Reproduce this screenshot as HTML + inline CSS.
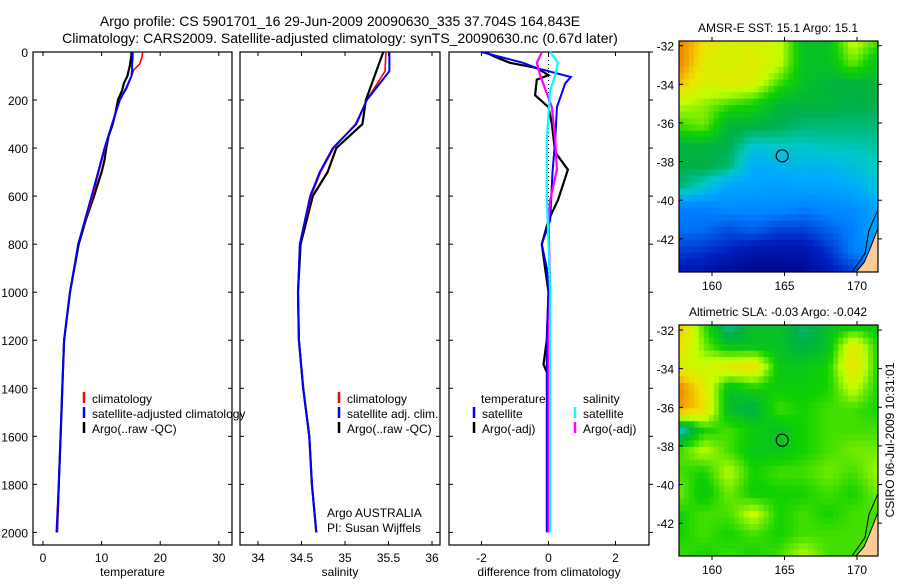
<!DOCTYPE html>
<html><head><meta charset="utf-8"><style>
body{margin:0;background:#fff;}
svg text{font-family:"Liberation Sans",sans-serif;fill:#000;}
</style></head><body>
<svg id="c" width="900" height="580" viewBox="0 0 900 580" xmlns="http://www.w3.org/2000/svg">
<text x="340" y="26" font-size="14" text-anchor="middle">Argo profile: CS 5901701_16 29-Jun-2009 20090630_335 37.704S 164.843E</text>
<text x="340" y="43" font-size="14" text-anchor="middle">Climatology: CARS2009. Satellite-adjusted climatology: synTS_20090630.nc (0.67d later)</text>
<g id="g"></g>
</svg>
<script>
// ---------- data ----------
const climDepth=[0,20,50,75,100,150,200,300,400,500,600,800,1000,1200,1400,1600,1800,2000];
const tempClim=[17,16.9,16.5,15.5,15.1,14.3,13.1,11.8,10.6,9.5,8.5,6.0,4.6,3.6,3.3,3.0,2.7,2.4];
const tempSat=[15.3,15.3,15.2,15.2,15.1,14.2,13.1,11.8,10.5,9.4,8.3,6.0,4.6,3.6,3.3,3.0,2.7,2.3];
const argoDepth=[0,10,30,60,100,130,160,200,250,300,350,400,450,500,600,700,800,1000,1200,1400,1600,1800,2000];
const tempArgo=[15.1,15.1,15.0,14.8,14.4,13.8,13.5,12.8,12.4,11.9,11.2,10.8,10.5,10.0,8.7,7.3,6.1,4.6,3.6,3.3,3.0,2.7,2.4];
const salDepth=[0,80,200,300,400,500,600,800,1000,1200,1400,1600,1800,2000];
const salClim=[35.47,35.46,35.25,35.12,34.87,34.72,34.61,34.48,34.46,34.47,34.52,34.59,34.62,34.67];
const salSat=[35.51,35.51,35.25,35.13,34.86,34.71,34.6,34.48,34.46,34.47,34.52,34.59,34.62,34.67];
const salArgo=[35.44,35.36,35.24,35.2,34.9,34.8,34.63,34.49,34.46,34.47,34.52,34.59,34.62,34.67];
const dTsDepth=[0,45,67,104,130,230,367,500,700,800,900,1000,1200,1400,1600,2000];
const dTsat=[-2.0,-0.76,-0.35,0.67,0.5,0.25,0.2,0.12,0.05,-0.2,-0.05,0,-0.05,-0.05,-0.05,-0.05];
const dTaDepth=[0,20,45,67,96,115,180,230,300,417,490,617,700,800,900,1000,1200,1300,1350,1400,2000];
const dTargo=[-1.9,-1.6,-1.15,-0.35,0,-0.35,-0.4,0,0.1,0.2,0.58,0.28,0,-0.2,-0.1,0,-0.05,-0.15,0,0,0];
const dSaDepth=[0,45,96,230,367,490,617,700,1000,1200,2000];
const dSargo=[-0.2,-0.35,-0.25,0.1,0.2,0.25,0.05,0,0.05,0,0];
const dSsDepth=[0,45,96,160,367,600,1000,2000];
const dSsat=[0.05,0.28,0.2,0.05,-0.05,-0.05,0.05,0.05];
const depthTicks=[0,200,400,600,800,1000,1200,1400,1600,1800,2000];
const tempTicks=[0,10,20,30];
const salTicks=[34,34.5,35,35.5,36];
const diffTicks=[-2,0,2];
const latTicks=[-32,-34,-36,-38,-40,-42];
const lonTicks=[160,165,170];
const sstGrid=[
[0.8,0.72,0.68,0.68,0.66,0.55,0.55,0.66,0.6],
[0.8,0.7,0.68,0.7,0.66,0.55,0.55,0.62,0.55],
[0.75,0.68,0.7,0.68,0.6,0.55,0.53,0.53,0.53],
[0.65,0.63,0.6,0.58,0.53,0.53,0.53,0.52,0.52],
[0.6,0.62,0.53,0.53,0.52,0.5,0.5,0.5,0.5],
[0.53,0.53,0.52,0.45,0.46,0.46,0.47,0.47,0.48],
[0.52,0.52,0.5,0.4,0.42,0.42,0.42,0.44,0.46],
[0.5,0.45,0.38,0.38,0.37,0.38,0.38,0.4,0.45],
[0.3,0.3,0.33,0.32,0.33,0.3,0.32,0.33,0.38],
[0.28,0.27,0.22,0.25,0.2,0.2,0.25,0.3,0.4],
[0.2,0.18,0.15,0.1,0.1,0.1,0.18,0.3,0.35],
[0.12,0.1,0.05,0.03,0.03,0.05,0.12,0.2,0.3]];
const slaGrid=[
[0.75,0.6,0.48,0.55,0.55,0.5,0.55,0.56,0.56],
[0.72,0.62,0.55,0.55,0.55,0.52,0.55,0.7,0.58],
[0.68,0.66,0.7,0.72,0.56,0.56,0.58,0.72,0.58],
[0.8,0.7,0.55,0.58,0.57,0.57,0.58,0.66,0.58],
[0.78,0.72,0.54,0.52,0.6,0.58,0.6,0.6,0.58],
[0.45,0.58,0.6,0.57,0.55,0.58,0.6,0.6,0.6],
[0.6,0.65,0.6,0.56,0.56,0.58,0.6,0.62,0.62],
[0.6,0.58,0.65,0.58,0.6,0.6,0.62,0.6,0.64],
[0.62,0.56,0.62,0.57,0.58,0.58,0.6,0.58,0.62],
[0.58,0.6,0.6,0.66,0.58,0.6,0.58,0.6,0.6],
[0.58,0.6,0.58,0.6,0.58,0.6,0.6,0.6,0.6],
[0.6,0.58,0.6,0.58,0.6,0.65,0.6,0.6,0.6]];

// ---------- helpers ----------
const NS="http://www.w3.org/2000/svg";
const G=document.getElementById('g');
function mk(tag,attrs,parent){const e=document.createElementNS(NS,tag);for(const k in attrs)e.setAttribute(k,attrs[k]);(parent||G).appendChild(e);return e;}
function txt(x,y,s,size,anchor,name){const t=mk('text',{x:x,y:y,'font-size':size,'text-anchor':anchor||'start'});t.textContent=s;


return t;}
const Y=d=>52+d*0.2402;
const PT={x0:33,x1:232,sx:v=>43+v*5.86};
const PS={x0:240,x1:440,sx:v=>258+(v-34)*87};
const PD={x0:449,x1:649,sx:v=>548.5+v*33.5};
function panel(P,name,ticks,xlabel,labelY){
  const r=mk('rect',{x:P.x0,y:52,width:P.x1-P.x0,height:493,fill:'none',stroke:'#000','stroke-width':1.2});
  
  
  depthTicks.forEach(d=>{const y=Y(d);
    mk('line',{x1:P.x0,y1:y,x2:P.x0+4,y2:y,stroke:'#000'});
    if(P===PD) mk('line',{x1:P.x1,y1:y,x2:P.x1+4,y2:y,stroke:'#000'});
    else mk('line',{x1:P.x1,y1:y,x2:P.x1-4,y2:y,stroke:'#000'});
    if(labelY) txt(28,y+5,String(d),12,'end','depth-tick-label');
  });
  ticks.forEach(v=>{const x=P.sx(v);
    mk('line',{x1:x,y1:545,x2:x,y2:541,stroke:'#000'});
    mk('line',{x1:x,y1:52,x2:x,y2:56,stroke:'#000'});
    txt(x,562,String(v),12,'middle',name+'-x-tick-label');
  });
  txt((P.x0+P.x1)/2,576,xlabel,12,'middle',name+'-x-axis-title');
}
function series(P,ds,vs,color,w,name,dash){
  const pts=ds.map((d,i)=>P.sx(vs[i]).toFixed(1)+','+Y(d).toFixed(1)).join(' ');
  const l=mk('polyline',{points:pts,fill:'none',stroke:color,'stroke-width':w});
  if(dash)l.setAttribute('stroke-dasharray',dash);
  
  
}
function legend(x,y,color,label,name){
  mk('line',{x1:x,y1:y-11,x2:x,y2:y,stroke:color,'stroke-width':2.5});
  txt(x+8,y,label,12,'start',name);
}

// temperature panel
panel(PT,'temperature-panel',tempTicks,'temperature',true);
series(PT,argoDepth,tempArgo,'#000',2.2,'temp-argo-line');
series(PT,climDepth,tempClim,'#f00',1.6,'temp-climatology-line');
series(PT,climDepth,tempSat,'#00f',2,'temp-satellite-line');
legend(84,403,'#f00','climatology','legend-climatology');
legend(84,418,'#00f','satellite-adjusted climatology','legend-satellite');
legend(84,433,'#000','Argo(..raw -QC)','legend-argo');

// salinity panel
panel(PS,'salinity-panel',salTicks,'salinity',false);
series(PS,salDepth,salArgo,'#000',2.2,'sal-argo-line');
series(PS,salDepth,salClim,'#f00',1.6,'sal-climatology-line');
series(PS,salDepth,salSat,'#00f',2,'sal-satellite-line');
legend(339,403,'#f00','climatology','legend-sal-climatology');
legend(339,418,'#00f','satellite adj. clim.','legend-sal-satellite');
legend(339,433,'#000','Argo(..raw -QC)','legend-sal-argo');
txt(327,517,'Argo AUSTRALIA',12,'start','credit-argo-australia');
txt(327,532,'PI: Susan Wijffels',12,'start','credit-pi');

// difference panel
panel(PD,'difference-panel',diffTicks,'difference from climatology',false);
mk('line',{x1:PD.sx(0),y1:52,x2:PD.sx(0),y2:Y(2000),stroke:'#000','stroke-dasharray':'1,3'});
series(PD,dTaDepth,dTargo,'#000',2.2,'diff-temp-argo-line');
series(PD,dTsDepth,dTsat,'#00f',2,'diff-temp-satellite-line');
series(PD,dSaDepth,dSargo,'#f0f',2.2,'diff-sal-argo-line');
series(PD,dSsDepth,dSsat,'#0ff',2.2,'diff-sal-satellite-line');
txt(481,403,'temperature',12,'start','legend-temperature-header');
txt(583,403,'salinity',12,'start','legend-salinity-header');
legend(474,418,'#00f','satellite','legend-diff-temp-satellite');
legend(474,433,'#000','Argo(-adj)','legend-diff-temp-argo');
legend(575,418,'#0ff','satellite','legend-diff-sal-satellite');
legend(575,433,'#f0f','Argo(-adj)','legend-diff-sal-argo');

// maps
const stops=[[0,[0,0,128]],[0.15,[0,32,192]],[0.3,[0,128,255]],[0.4,[0,170,255]],[0.46,[0,200,200]],[0.52,[0,176,72]],[0.58,[16,210,0]],[0.65,[192,255,0]],[0.72,[240,224,0]],[0.8,[240,128,0]]];
function cmap(v){if(v<=0)return 'rgb(0,0,128)';for(let i=1;i<stops.length;i++){if(v<=stops[i][0]){const a=stops[i-1],b=stops[i],t=(v-a[0])/(b[0]-a[0]);return 'rgb('+a[1].map((c,j)=>Math.round(c+(b[1][j]-c)*t)).join(',')+')';}}return 'rgb(240,128,0)';}
function sample(grid,u,v){const R=grid.length-1,C=grid[0].length-1;const fy=v*R,fx=u*C;const i=Math.min(Math.floor(fy),R-1),j=Math.min(Math.floor(fx),C-1);const ty=fy-i,tx=fx-j;
return grid[i][j]*(1-tx)*(1-ty)+grid[i][j+1]*tx*(1-ty)+grid[i+1][j]*(1-tx)*ty+grid[i+1][j+1]*tx*ty;}
function map(top,bot,grid,title,name,lat0y){
  const x0=679,x1=878,w=x1-x0,h=bot-top;
  const g=mk('g',{});
  
  
  const nx=40,ny=36;
  for(let r=0;r<ny;r++)for(let c=0;c<nx;c++){
    const v=sample(grid,(c+0.5)/nx,(r+0.5)/ny);
    mk('rect',{x:(x0+c*w/nx).toFixed(2),y:(top+r*h/ny).toFixed(2),width:(w/nx+0.4).toFixed(2),height:(h/ny+0.4).toFixed(2),fill:cmap(v)},g);
  }
  // coast
  mk('polygon',{points:`${x1},${bot-h*0.19} ${x1-8},${bot-h*0.1} ${x1-14},${bot-h*0.04} ${x1-22},${bot} ${x1},${bot}`,fill:'#ffcc99'},g);
  mk('polyline',{points:`${x1},${bot-h*0.19} ${x1-8},${bot-h*0.1} ${x1-14},${bot-h*0.04} ${x1-22},${bot}`,fill:'none',stroke:'#000','stroke-width':1},g);
  mk('polyline',{points:`${x1},${bot-h*0.27} ${x1-9},${bot-h*0.18} ${x1-13},${bot-h*0.08} ${x1-26},${bot}`,fill:'none',stroke:'#000','stroke-width':1},g);
  mk('rect',{x:x0,y:top,width:w,height:h,fill:'none',stroke:'#000','stroke-width':1.2},g);
  const sy=19.4*(h/232);
  latTicks.forEach((la,i)=>{const y=lat0y+i*2*sy;
    mk('line',{x1:x0,y1:y,x2:x0+4,y2:y,stroke:'#000'},g);mk('line',{x1:x1,y1:y,x2:x1+4,y2:y,stroke:'#000'},g);
    txt(674,y+5,String(la),12,'end',name+'-lat-label');});
  lonTicks.forEach(lo=>{const x=712+(lo-160)*14.5;
    mk('line',{x1:x,y1:bot,x2:x,y2:bot+4,stroke:'#000'},g);mk('line',{x1:x,y1:top,x2:x,y2:top-4,stroke:'#000'},g);
    txt(x,bot+18,String(lo),12,'middle',name+'-lon-label');});
  const ci=mk('circle',{cx:712+(164.843-160)*14.5,cy:lat0y+(37.704-32)*sy,r:6,fill:'none',stroke:'#000','stroke-width':1.2},g);
  
  
  txt(778,top-9,title,12,'middle',name+'-title');
}
map(41,272,sstGrid,'AMSR-E SST: 15.1 Argo: 15.1','sst-map',45.7);
map(325,556,slaGrid,'Altimetric SLA: -0.03 Argo: -0.042','sla-map',330);
const rt=txt(0,0,'CSIRO 06-Jul-2009 10:31:01',12,'middle','timestamp-label');
rt.setAttribute('transform','translate(894,440) rotate(-90)');
</script>
</body></html>
